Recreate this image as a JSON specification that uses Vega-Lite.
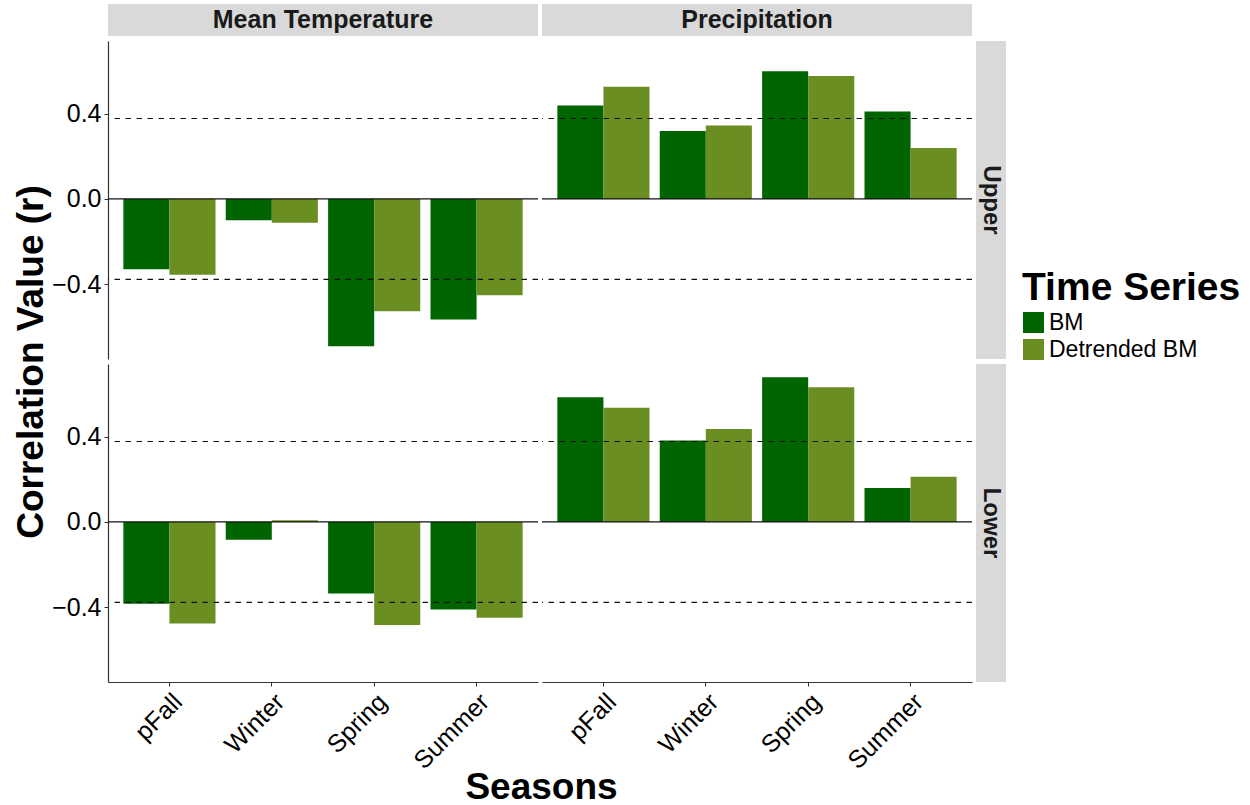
{
  "$schema": "https://vega.github.io/schema/vega-lite/v6.json",
  "padding": {"left": 12, "top": 4, "right": 5, "bottom": 5},
  "datasets": {
    "corr": [
      {"variable": "Mean Temperature", "zone": "Upper", "season": "pFall", "series": "BM", "r": -0.330},
      {"variable": "Mean Temperature", "zone": "Upper", "season": "pFall", "series": "Detrended BM", "r": -0.356},
      {"variable": "Mean Temperature", "zone": "Upper", "season": "Winter", "series": "BM", "r": -0.100},
      {"variable": "Mean Temperature", "zone": "Upper", "season": "Winter", "series": "Detrended BM", "r": -0.112},
      {"variable": "Mean Temperature", "zone": "Upper", "season": "Spring", "series": "BM", "r": -0.692},
      {"variable": "Mean Temperature", "zone": "Upper", "season": "Spring", "series": "Detrended BM", "r": -0.528},
      {"variable": "Mean Temperature", "zone": "Upper", "season": "Summer", "series": "BM", "r": -0.566},
      {"variable": "Mean Temperature", "zone": "Upper", "season": "Summer", "series": "Detrended BM", "r": -0.452},
      {"variable": "Precipitation", "zone": "Upper", "season": "pFall", "series": "BM", "r": 0.439},
      {"variable": "Precipitation", "zone": "Upper", "season": "pFall", "series": "Detrended BM", "r": 0.527},
      {"variable": "Precipitation", "zone": "Upper", "season": "Winter", "series": "BM", "r": 0.319},
      {"variable": "Precipitation", "zone": "Upper", "season": "Winter", "series": "Detrended BM", "r": 0.345},
      {"variable": "Precipitation", "zone": "Upper", "season": "Spring", "series": "BM", "r": 0.600},
      {"variable": "Precipitation", "zone": "Upper", "season": "Spring", "series": "Detrended BM", "r": 0.578},
      {"variable": "Precipitation", "zone": "Upper", "season": "Summer", "series": "BM", "r": 0.411},
      {"variable": "Precipitation", "zone": "Upper", "season": "Summer", "series": "Detrended BM", "r": 0.239},
      {"variable": "Mean Temperature", "zone": "Lower", "season": "pFall", "series": "BM", "r": -0.384},
      {"variable": "Mean Temperature", "zone": "Lower", "season": "pFall", "series": "Detrended BM", "r": -0.477},
      {"variable": "Mean Temperature", "zone": "Lower", "season": "Winter", "series": "BM", "r": -0.084},
      {"variable": "Mean Temperature", "zone": "Lower", "season": "Winter", "series": "Detrended BM", "r": 0.008},
      {"variable": "Mean Temperature", "zone": "Lower", "season": "Spring", "series": "BM", "r": -0.336},
      {"variable": "Mean Temperature", "zone": "Lower", "season": "Spring", "series": "Detrended BM", "r": -0.484},
      {"variable": "Mean Temperature", "zone": "Lower", "season": "Summer", "series": "BM", "r": -0.411},
      {"variable": "Mean Temperature", "zone": "Lower", "season": "Summer", "series": "Detrended BM", "r": -0.450},
      {"variable": "Precipitation", "zone": "Lower", "season": "pFall", "series": "BM", "r": 0.586},
      {"variable": "Precipitation", "zone": "Lower", "season": "pFall", "series": "Detrended BM", "r": 0.536},
      {"variable": "Precipitation", "zone": "Lower", "season": "Winter", "series": "BM", "r": 0.383},
      {"variable": "Precipitation", "zone": "Lower", "season": "Winter", "series": "Detrended BM", "r": 0.437},
      {"variable": "Precipitation", "zone": "Lower", "season": "Spring", "series": "BM", "r": 0.680},
      {"variable": "Precipitation", "zone": "Lower", "season": "Spring", "series": "Detrended BM", "r": 0.633},
      {"variable": "Precipitation", "zone": "Lower", "season": "Summer", "series": "BM", "r": 0.159},
      {"variable": "Precipitation", "zone": "Lower", "season": "Summer", "series": "Detrended BM", "r": 0.212}
    ],
    "thresholds": [{"r": 0.378}, {"r": -0.378}],
    "zero": [{"r": 0}]
  },
  "columns": 3,
  "bounds": "flush",
  "spacing": {"row": 5, "column": 4},
  "concat": [
    {
      "width": 430, "height": 32,
      "view": {"fill": "#D9D9D9", "stroke": null},
      "data": {"values": [{"label": "Mean Temperature"}]},
      "mark": {"type": "text", "fontSize": 25, "fontWeight": "bold", "color": "#1A1A1A", "baseline": "middle", "align": "center"},
      "encoding": {"text": {"field": "label", "type": "nominal"}}
    },
    {
      "width": 430, "height": 32,
      "view": {"fill": "#D9D9D9", "stroke": null},
      "data": {"values": [{"label": "Precipitation"}]},
      "mark": {"type": "text", "fontSize": 25, "fontWeight": "bold", "color": "#1A1A1A", "baseline": "middle", "align": "center"},
      "encoding": {"text": {"field": "label", "type": "nominal"}}
    },
    {
      "width": 30, "height": 32,
      "data": {"values": [{"label": ""}]},
      "mark": {"type": "text"},
      "encoding": {"text": {"field": "label", "type": "nominal"}}
    },
    {
      "width": 430, "height": 318,
      "encoding": {
        "y": {"field": "r", "type": "quantitative", "scale": {"domain": [-0.752, 0.742], "nice": false},
              "axis": {"values": [-0.4, 0, 0.4], "format": ".1f", "title": "Correlation Value (r)", "titleX": -66, "titleY": 320.5, "titleBaseline": "alphabetic", "titleAngle": -90, "titleAlign": "center", "titleLimit": 600}}
      },
      "layer": [
        {
          "data": {"name": "corr"},
          "transform": [{"filter": "datum.variable === 'Mean Temperature' && datum.zone === 'Upper'"}],
          "mark": {"type": "bar"},
          "encoding": {
            "x": {"field": "season", "type": "nominal", "sort": ["pFall", "Winter", "Spring", "Summer"], "scale": {"paddingInner": 0.1, "paddingOuter": 0.15}, "axis": null},
            "xOffset": {"field": "series", "type": "nominal", "sort": ["BM", "Detrended BM"]},
            "color": {"field": "series", "type": "nominal", "title": "Time Series", "scale": {"domain": ["BM", "Detrended BM"], "range": ["#006400", "#6B8E23"]}}
          }
        },
        {"data": {"name": "thresholds"}, "mark": {"type": "rule", "strokeDash": [5.5, 5.5], "color": "#111111", "strokeWidth": 1.2}, "encoding": {}},
        {"data": {"name": "zero"}, "mark": {"type": "rule", "color": "#111111", "strokeWidth": 1.2}, "encoding": {}}
      ]
    },
    {
      "width": 430, "height": 318,
      "encoding": {
        "y": {"field": "r", "type": "quantitative", "scale": {"domain": [-0.752, 0.742], "nice": false}, "axis": null}
      },
      "layer": [
        {
          "data": {"name": "corr"},
          "transform": [{"filter": "datum.variable === 'Precipitation' && datum.zone === 'Upper'"}],
          "mark": {"type": "bar"},
          "encoding": {
            "x": {"field": "season", "type": "nominal", "sort": ["pFall", "Winter", "Spring", "Summer"], "scale": {"paddingInner": 0.1, "paddingOuter": 0.15}, "axis": null},
            "xOffset": {"field": "series", "type": "nominal", "sort": ["BM", "Detrended BM"]},
            "color": {"field": "series", "type": "nominal", "title": "Time Series", "scale": {"domain": ["BM", "Detrended BM"], "range": ["#006400", "#6B8E23"]}}
          }
        },
        {"data": {"name": "thresholds"}, "mark": {"type": "rule", "strokeDash": [5.5, 5.5], "color": "#111111", "strokeWidth": 1.2}, "encoding": {}},
        {"data": {"name": "zero"}, "mark": {"type": "rule", "color": "#111111", "strokeWidth": 1.2}, "encoding": {}}
      ]
    },
    {
      "width": 30, "height": 318,
      "view": {"fill": "#D9D9D9", "stroke": null},
      "data": {"values": [{"label": "Upper"}]},
      "mark": {"type": "text", "fontSize": 24, "fontWeight": "bold", "color": "#1A1A1A", "baseline": "middle", "align": "center", "angle": 90},
      "encoding": {"text": {"field": "label", "type": "nominal"}}
    },
    {
      "width": 430, "height": 318,
      "encoding": {
        "y": {"field": "r", "type": "quantitative", "scale": {"domain": [-0.752, 0.742], "nice": false},
              "axis": {"values": [-0.4, 0, 0.4], "format": ".1f", "title": null}}
      },
      "layer": [
        {
          "data": {"name": "corr"},
          "transform": [{"filter": "datum.variable === 'Mean Temperature' && datum.zone === 'Lower'"}],
          "mark": {"type": "bar"},
          "encoding": {
            "x": {"field": "season", "type": "nominal", "sort": ["pFall", "Winter", "Spring", "Summer"], "scale": {"paddingInner": 0.1, "paddingOuter": 0.15},
                  "axis": {"labelAngle": -45, "title": "Seasons", "titleX": 433, "titleY": 116, "titleBaseline": "alphabetic", "titleAlign": "center"}},
            "xOffset": {"field": "series", "type": "nominal", "sort": ["BM", "Detrended BM"]},
            "color": {"field": "series", "type": "nominal", "title": "Time Series", "scale": {"domain": ["BM", "Detrended BM"], "range": ["#006400", "#6B8E23"]}}
          }
        },
        {"data": {"name": "thresholds"}, "mark": {"type": "rule", "strokeDash": [5.5, 5.5], "color": "#111111", "strokeWidth": 1.2}, "encoding": {}},
        {"data": {"name": "zero"}, "mark": {"type": "rule", "color": "#111111", "strokeWidth": 1.2}, "encoding": {}}
      ]
    },
    {
      "width": 430, "height": 318,
      "encoding": {
        "y": {"field": "r", "type": "quantitative", "scale": {"domain": [-0.752, 0.742], "nice": false}, "axis": null}
      },
      "layer": [
        {
          "data": {"name": "corr"},
          "transform": [{"filter": "datum.variable === 'Precipitation' && datum.zone === 'Lower'"}],
          "mark": {"type": "bar"},
          "encoding": {
            "x": {"field": "season", "type": "nominal", "sort": ["pFall", "Winter", "Spring", "Summer"], "scale": {"paddingInner": 0.1, "paddingOuter": 0.15},
                  "axis": {"labelAngle": -45, "title": null}},
            "xOffset": {"field": "series", "type": "nominal", "sort": ["BM", "Detrended BM"]},
            "color": {"field": "series", "type": "nominal", "title": "Time Series", "scale": {"domain": ["BM", "Detrended BM"], "range": ["#006400", "#6B8E23"]}}
          }
        },
        {"data": {"name": "thresholds"}, "mark": {"type": "rule", "strokeDash": [5.5, 5.5], "color": "#111111", "strokeWidth": 1.2}, "encoding": {}},
        {"data": {"name": "zero"}, "mark": {"type": "rule", "color": "#111111", "strokeWidth": 1.2}, "encoding": {}}
      ]
    },
    {
      "width": 30, "height": 318,
      "view": {"fill": "#D9D9D9", "stroke": null},
      "data": {"values": [{"label": "Lower"}]},
      "mark": {"type": "text", "fontSize": 24, "fontWeight": "bold", "color": "#1A1A1A", "baseline": "middle", "align": "center", "angle": 90},
      "encoding": {"text": {"field": "label", "type": "nominal"}}
    }
  ],
  "resolve": {"scale": {"color": "shared"}},
  "config": {
    "font": "Liberation Sans",
    "view": {"stroke": null},
    "axis": {
      "grid": false,
      "labelFont": "Liberation Sans",
      "labelFontSize": 25,
      "labelColor": "#000000",
      "labelPadding": 3,
      "tickColor": "#333333",
      "tickSize": 4,
      "domainColor": "#333333",
      "domainWidth": 1.2,
      "titleFont": "Liberation Sans",
      "titleFontSize": 37,
      "titleFontWeight": "bold",
      "titleColor": "#000000"
    },
    "legend": {
      "orient": "none",
      "legendX": 914,
      "legendY": 265,
      "titleFont": "Liberation Sans",
      "titleFontSize": 39,
      "titleFontWeight": "bold",
      "titleColor": "#000000",
      "titlePadding": 3,
      "titleLimit": 500,
      "labelFont": "Liberation Sans",
      "labelFontSize": 23,
      "labelColor": "#000000",
      "labelOffset": 4,
      "labelLimit": 400,
      "symbolType": "square",
      "symbolSize": 441,
      "symbolStrokeWidth": 0,
      "rowPadding": 3
    }
  }
}
